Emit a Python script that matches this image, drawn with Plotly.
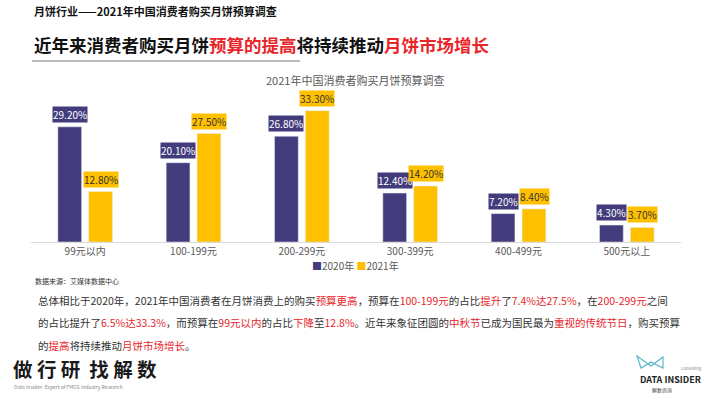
import plotly.graph_objects as go

categories = ["99元以内", "100-199元", "200-299元", "300-399元", "400-499元", "500元以上"]
series_names = ["2020年", "2021年"]
values_2020 = [29.2, 20.1, 26.8, 12.4, 7.2, 4.3]
values_2021 = [12.8, 27.5, 33.3, 14.2, 8.4, 3.7]

NAVY = "#433C7C"
YELLOW = "#FFC000"
RED = "#E8262A"
FONT = "Noto Sans CJK SC"
W, H = 710, 399

fig = go.Figure()
fig.add_trace(go.Bar(x=categories, y=values_2020, name=series_names[0], marker_color=NAVY))
fig.add_trace(go.Bar(x=categories, y=values_2021, name=series_names[1], marker_color=YELLOW))

ann = []
# data labels
for vals, shift, bg, fc in [(values_2020, -15.5, NAVY, "white"), (values_2021, 15.5, YELLOW, "#333333")]:
    for c, v in zip(categories, vals):
        ann.append(dict(x=c, y=v, xref="x", yref="y", text=f"{v:.2f}%", showarrow=False,
                        xshift=shift, yanchor="bottom", yshift=4, bgcolor=bg, borderpad=0,
                        font=dict(family=FONT, size=10, color=fc)))

def pa(x, y, text, size, color="#222222", xanchor="left", yanchor="middle", family=FONT):
    ann.append(dict(x=x / W, y=1 - y / H, xref="paper", yref="paper", text=text, showarrow=False,
                    xanchor=xanchor, yanchor=yanchor, align="left",
                    font=dict(family=family, size=size, color=color)))

def r(t):
    return f'<span style="color:{RED}">{t}</span>'

pa(32, 11, "<b>月饼行业——2021年中国消费者购买月饼预算调查</b>", 11, "#111111")
pa(32, 44, "<b>近年来消费者购买月饼" + r("预算的提高") + "将持续推动" + r("月饼市场增长") + "</b>", 17.5, "#111111")
pa(355, 80, "2021年中国消费者购买月饼预算调查", 11, "#595959", xanchor="center")
pa(33, 281, "数据来源：艾媒体数据中心", 7, "#333333")

# legend
pa(355, 265, f'<span style="color:{NAVY}">■</span>{series_names[0]} <span style="color:{YELLOW}">■</span>{series_names[1]}',
   10, "#595959", xanchor="center")

lines = [
    "总体相比于2020年，2021年中国消费者在月饼消费上的购买" + r("预算更高") + "，预算在" + r("100-199元") + "的占比" + r("提升") + "了" + r("7.4%达27.5%") + "，在" + r("200-299元") + "之间",
    "的占比提升了" + r("6.5%达33.3%") + "，而预算在" + r("99元以内") + "的占比" + r("下降") + "至" + r("12.8%") + "。近年来象征团圆的" + r("中秋节") + "已成为国民最为" + r("重视的传统节日") + "，购买预算",
    "的" + r("提高") + "将持续推动" + r("月饼市场增长") + "。",
]
for i, t in enumerate(lines):
    pa(36, 300 + i * 22.5, t, 10.5, "#333333")

pa(11, 368, "<b>做 行 研  找 解 数</b>", 19.5, "#1a1a1a")
pa(12, 387, "Data Insider- Expert of FMCG Industry Research", 5, "#888888")
pa(670, 379, "<b>DATA INSIDER</b>", 9, "#222222", xanchor="center")
pa(650, 390, "解数咨询", 5, "#444444")
pa(704, 368, "Consulting", 4, "#888888", xanchor="right")

shapes = [
    dict(type="line", xref="paper", yref="paper", x0=32 / W, x1=300 / W, y0=1 - 61 / H, y1=1 - 61 / H,
         line=dict(color="#777777", width=1)),
    # logo glyph
    dict(type="path", xref="paper", yref="paper",
         path=f"M {637/W} {1-356/H} L {651/W} {1-366/H} L {663/W} {1-357/H} L {663/W} {1-368/H} L {651/W} {1-362/H} L {641/W} {1-368/H} Z",
         line=dict(color="#5BB6C9", width=1.2), fillcolor="rgba(0,0,0,0)"),
]

fig.update_layout(
    width=W, height=H, margin=dict(l=0, r=0, t=0, b=0),
    paper_bgcolor="white", plot_bgcolor="white",
    barmode="group", bargap=0.43, bargroupgap=0.23,
    font=dict(family=FONT, color="#595959"),
    xaxis=dict(domain=[31 / W, 681 / W], showgrid=False, showline=True, linecolor="#D9D9D9", linewidth=1,
               ticks="", tickfont=dict(size=10, color="#595959"), fixedrange=True),
    yaxis=dict(domain=[157 / H, 299 / H], range=[0, 36], visible=False, fixedrange=True),
    annotations=ann, shapes=shapes, showlegend=False,
)
fig.write_html("out.html", config={"displayModeBar": False},
               post_script="document.body.style.margin='0';document.body.style.overflow='hidden';")
